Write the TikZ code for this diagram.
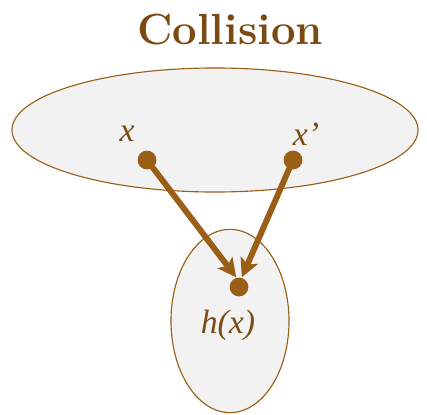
\documentclass[tikz,border=0pt]{standalone}
\usepackage{fontspec}
\setmainfont{Liberation Serif}
\newfontfamily\coltitlefont{Latin Modern Roman}
\usetikzlibrary{arrows.meta,positioning,shapes.geometric}
\definecolor{colbrown}{HTML}{9A5E17}
\definecolor{coltitle}{HTML}{7B4A12}
\definecolor{colfill}{HTML}{F2F2F2}
\tikzset{
  colset/.style={draw=colbrown, fill=colfill, line width=0.8pt},
  coldot/.style={circle, fill=colbrown, inner sep=0pt, minimum size=0.47cm},
  colarr/.style={-{Stealth[length=4.6mm,width=4.6mm,inset=1mm]}, line width=4.2pt, draw=colbrown},
  collbl/.style={font=\fontsize{24}{28}\selectfont\itshape, text=colbrown!80!black},
}
\begin{document}
\begin{tikzpicture}[x=0.025cm, y=-0.025cm]
  \useasboundingbox (0,0) rectangle (427,414);
  \node[font=\coltitlefont\bfseries\fontsize{31}{36}\selectfont, text=coltitle] (title) at (230,30) {Collision};
  % domain and range
  \node[colset, ellipse, minimum width=10.15cm, minimum height=3.1cm] (dom) at (215,130) {};
  \node[colset, ellipse, minimum width=2.95cm, minimum height=4.58cm] (rng) at (230,321) {};
  % points
  \node[coldot] (px) at (147,160) {};
  \node[coldot] (py) at (293,160) {};
  \node[coldot] (ph) at (239,287) {};
  \node[collbl] (lx) at (127,134) {x};
  \node[collbl] (ly) at (306,134) {x’};
  \node[collbl] (lh) at (228,325) {h(x)};
  \draw[colarr] (px.center) -- ([xshift=-2pt]ph.north);
  \draw[colarr] (py.center) -- ([xshift=2pt]ph.north);
\end{tikzpicture}
\end{document}
